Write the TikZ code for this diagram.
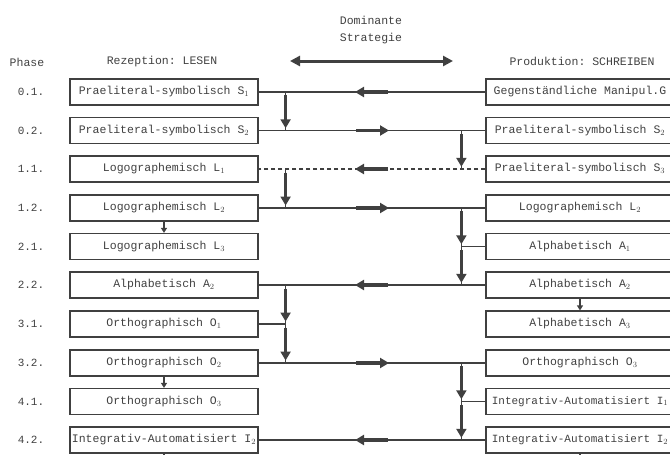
\documentclass[tikz,border=0pt]{standalone}
\usepackage{fontspec}
\setmonofont{Liberation Mono}
\usetikzlibrary{arrows.meta,decorations.markings}

\definecolor{tinte}{gray}{0.25}

\tikzset{
  stufe/.style={draw=tinte, line width=1.2pt, minimum width=188pt, minimum height=26pt,
    inner sep=2pt, text=tinte, font=\ttfamily\fontsize{11.5}{13}\selectfont},
  lang/.style={font=\ttfamily\fontsize{11}{13}\selectfont},
  kopf/.style={text=tinte, font=\ttfamily\fontsize{11.5}{17}\selectfont},
  phase/.style={text=tinte, font=\ttfamily\fontsize{11}{13}\selectfont},
  weg/.style={draw=tinte, line width=1.1pt},
  mitte/.style={postaction={decorate}, decoration={markings, mark=at position 0.5 with
    {\draw[solid, tinte, line width=3.3pt, -{Triangle[length=9pt,width=10pt]}] (-16pt,0) -- (17pt,0);}}},
  kurz/.style={draw=tinte, line width=1.6pt, -{Triangle[length=5pt,width=6pt]}},
}

\begin{document}
\begin{tikzpicture}[x=1pt, y=-1pt]
  \useasboundingbox (0,0) rectangle (670,455);
  \clip (0,0) rectangle (670,455);

  % Kopfzeile
  \node[kopf] (phase) at (27,62) {Phase};
  \node[kopf] (rez) at (162,62) {Rezeption: LESEN};
  \node[kopf] (prod) at (582,61) {Produktion: SCHREIBEN};
  \node[kopf, align=center] (dom) at (371,30) {Dominante\\Strategie};
  \coordinate (dl) at (290,61);
  \coordinate (dr) at (453,61);
  \draw[tinte, line width=3pt, {Triangle[length=10pt,width=10pt]}-{Triangle[length=10pt,width=10pt]}] (dl) -- (dr);

  % Phasen
  \node[phase] (p01) at (31,92) {0.1.};
  \node[phase] (p02) at (31,130.5) {0.2.};
  \node[phase] (p11) at (31,169) {1.1.};
  \node[phase] (p12) at (31,208) {1.2.};
  \node[phase] (p21) at (31,246.5) {2.1.};
  \node[phase] (p22) at (31,285) {2.2.};
  \node[phase] (p31) at (31,324) {3.1.};
  \node[phase] (p32) at (31,363) {3.2.};
  \node[phase] (p41) at (31,401.5) {4.1.};
  \node[phase] (p42) at (31,440) {4.2.};

  % Rezeption: LESEN
  \node[stufe] (l01) at (164,92) {Praeliteral-symbolisch S$_1$};
  \node[stufe] (l02) at (164,130.5) {Praeliteral-symbolisch S$_2$};
  \node[stufe] (l11) at (164,169) {Logographemisch L$_1$};
  \node[stufe] (l12) at (164,208) {Logographemisch L$_2$};
  \node[stufe] (l21) at (164,246.5) {Logographemisch L$_3$};
  \node[stufe] (l22) at (164,285) {Alphabetisch A$_2$};
  \node[stufe] (l31) at (164,324) {Orthographisch O$_1$};
  \node[stufe] (l32) at (164,363) {Orthographisch O$_2$};
  \node[stufe] (l41) at (164,401.5) {Orthographisch O$_3$};
  \node[stufe] (l42) at (164,440) {Integrativ-Automatisiert I$_2$};

  % Produktion: SCHREIBEN
  \node[stufe] (r01) at (580,92) {Gegenständliche Manipul.G};
  \node[stufe] (r02) at (580,130.5) {Praeliteral-symbolisch S$_2$};
  \node[stufe] (r11) at (580,169) {Praeliteral-symbolisch S$_3$};
  \node[stufe] (r12) at (580,208) {Logographemisch L$_2$};
  \node[stufe] (r21) at (580,246.5) {Alphabetisch A$_1$};
  \node[stufe] (r22) at (580,285) {Alphabetisch A$_2$};
  \node[stufe] (r31) at (580,324) {Alphabetisch A$_3$};
  \node[stufe] (r32) at (580,363) {Orthographisch O$_3$};
  \node[stufe, lang] (r41) at (580,401.5) {Integrativ-Automatisiert I$_1$};
  \node[stufe, lang] (r42) at (580,440) {Integrativ-Automatisiert I$_2$};

  % Knickpunkte der senkrechten Pfeile
  \path (l01.east) ++(27,0) coordinate (a01);
  \path (l02.east) ++(27,0) coordinate (a02);
  \path (l11.east) ++(27,0) coordinate (a11);
  \path (l12.east) ++(27,0) coordinate (a12);
  \path (l22.east) ++(27,0) coordinate (a22);
  \path (l31.east) ++(27,0) coordinate (a31);
  \path (l32.east) ++(27,0) coordinate (a32);
  \path (r02.west) ++(-24,0) coordinate (b02);
  \path (r11.west) ++(-24,0) coordinate (b11);
  \path (r12.west) ++(-24,0) coordinate (b12);
  \path (r21.west) ++(-24,0) coordinate (b21);
  \path (r22.west) ++(-24,0) coordinate (b22);
  \path (r32.west) ++(-24,0) coordinate (b32);
  \path (r41.west) ++(-24,0) coordinate (b41);
  \path (r42.west) ++(-24,0) coordinate (b42);
  \path (l42.south) ++(0,20) coordinate (lend);
  \path (r42.south) ++(0,20) coordinate (rend);

  % dominante Strategie je Phase
  \draw[weg, mitte] (r01.west) -- (l01.east);
  \draw[weg, mitte] (l02.east) -- (r02.west);
  \draw[weg, dash pattern=on 4pt off 3pt, mitte] (r11.west) -- (l11.east);
  \draw[weg, mitte] (l12.east) -- (r12.west);
  \draw[weg, mitte] (r22.west) -- (l22.east);
  \draw[weg, mitte] (l32.east) -- (r32.west);
  \draw[weg, mitte] (r42.west) -- (l42.east);

  % Uebergaenge links
  \draw[weg, mitte] (a01) -- (a02);
  \draw[weg, mitte] (a11) -- (a12);
  \draw[weg, mitte] (a22) -- (a31);
  \draw[weg, mitte] (a31) -- (a32);
  \draw[weg] (l31.east) -- (a31);

  % Uebergaenge rechts
  \draw[weg, mitte] (b02) -- (b11);
  \draw[weg, mitte] (b12) -- (b21);
  \draw[weg, mitte] (b21) -- (b22);
  \draw[weg] (r21.west) -- (b21);
  \draw[weg, mitte] (b32) -- (b41);
  \draw[weg, mitte] (b41) -- (b42);
  \draw[weg] (r41.west) -- (b41);

  % kurze Pfeile zwischen Kaesten
  \draw[kurz] (l12.south) -- (l21.north);
  \draw[kurz] (l32.south) -- (l41.north);
  \draw[kurz] (r22.south) -- (r31.north);
  \draw[weg] (l42.south) -- (lend);
  \draw[weg] (r42.south) -- (rend);
\end{tikzpicture}
\end{document}
